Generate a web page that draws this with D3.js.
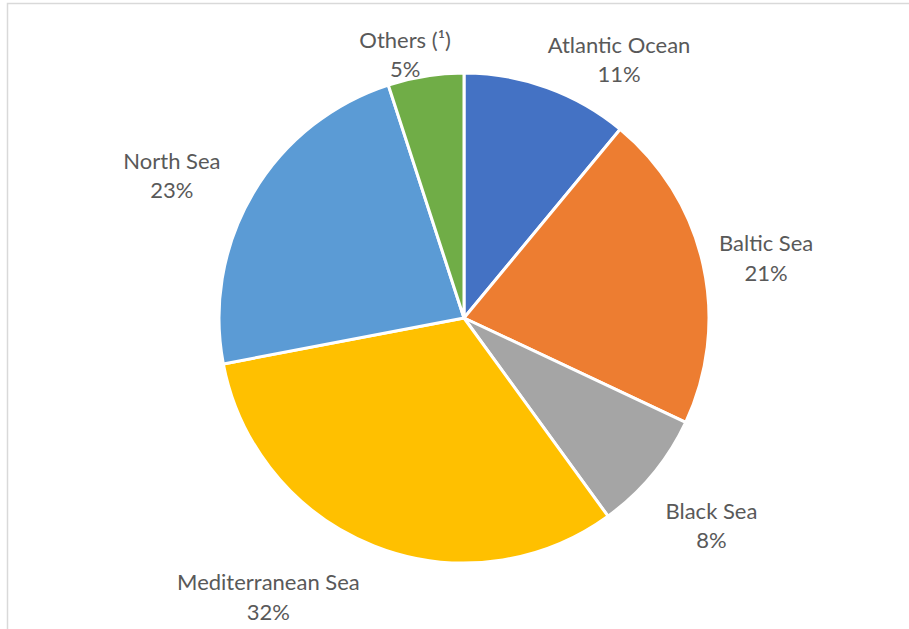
<!DOCTYPE html>
<html>
<head>
<meta charset="utf-8">
<script src="https://cdn.jsdelivr.net/npm/d3@7"></script>
<style>
  html, body { margin: 0; padding: 0; background: #fff; }
  svg { display: block; }
</style>
</head>
<body>
<svg id="chart" width="909" height="629"></svg>
<script>
// Share of catches by fishing area (%)
const categories = ["Atlantic Ocean", "Baltic Sea", "Black Sea", "Mediterranean Sea", "North Sea", "Others (¹)"];
const shares = [11, 21, 8, 32, 23, 5];
const colors = ["#4472C4", "#ED7D31", "#A5A5A5", "#FFC000", "#5B9BD5", "#70AD47"];

// Label placement: angle offset (degrees) from the slice mid-angle and distance (px) from the pie centre
const labelLayout = {
  "Atlantic Ocean":    { da: 11.2, dist: 301 },
  "Baltic Sea":        { da: 1.4,  dist: 308 },
  "Black Sea":         { da: 0.4,  dist: 323 },
  "Mediterranean Sea": { da: 13.4, dist: 341 },
  "North Sea":         { da: -4.6, dist: 325 },
  "Others (¹)":        { da: -3.6, dist: 270 }
};

const svg = d3.select("#chart");
const W = 909, H = 629;

// Chart area frame (extends past the visible page on the right and bottom)
svg.append("rect")
  .attr("x", 7.5).attr("y", 3.5)
  .attr("width", W + 20).attr("height", H + 20)
  .attr("fill", "#fff")
  .attr("stroke", "#d9d9d9")
  .attr("stroke-width", 1.5);

const cx = 464, cy = 318, R = 245;
const data = categories.map((c, i) => ({ name: c, value: shares[i], color: colors[i] }));

const pie = d3.pie().value(d => d.value).sort(null);
const arc = d3.arc().innerRadius(0).outerRadius(R);
const arcs = pie(data);

const g = svg.append("g").attr("transform", `translate(${cx},${cy})`);

g.selectAll("path.slice")
  .data(arcs)
  .join("path")
  .attr("class", "slice")
  .attr("d", arc)
  .attr("fill", d => d.data.color)
  .attr("stroke", "#fff")
  .attr("stroke-width", 3)
  .attr("stroke-linejoin", "round");

const fmt = v => v + "%";
const labels = g.selectAll("text.lbl")
  .data(arcs)
  .join("text")
  .attr("class", "lbl")
  .attr("text-anchor", "middle")
  .attr("font-family", "Lato, 'Open Sans', sans-serif")
  .attr("font-size", 22)
  .attr("fill", "#595959")
  .attr("transform", d => {
    const L = labelLayout[d.data.name];
    const mid = (d.startAngle + d.endAngle) / 2 + L.da * Math.PI / 180;
    const x = Math.sin(mid) * L.dist;
    const y = -Math.cos(mid) * L.dist;
    return `translate(${x},${y})`;
  });

labels.append("tspan")
  .attr("x", 0).attr("dy", -7)
  .text(d => d.data.name);
labels.append("tspan")
  .attr("x", 0).attr("dy", 29.5)
  .text(d => fmt(d.data.value));
</script>
</body>
</html>
